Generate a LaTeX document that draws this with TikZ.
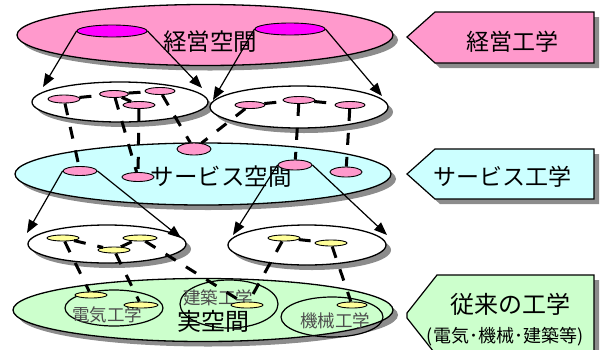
\documentclass[tikz,border=0pt]{standalone}
\usepackage{fontspec}
\setmainfont{Noto Sans CJK JP}
\usetikzlibrary{shapes.geometric,shadows,arrows.meta}
\definecolor{pinkA}{HTML}{FF99CC}
\definecolor{cyanA}{HTML}{CCFFFF}
\definecolor{greenA}{HTML}{CCFFCC}
\definecolor{magA}{HTML}{FF00FF}
\definecolor{yelA}{HTML}{FFFF99}
\definecolor{shd}{HTML}{8C8C8C}
\begin{document}
\begin{tikzpicture}[x=1pt,y=-1pt,
  shad/.style={drop shadow={shadow xshift=5pt,shadow yshift=-5pt,fill=shd,opacity=1}},
  ell/.style={ellipse,draw,line width=1.3pt,inner sep=0pt},
  bigell/.style={ell,shad},
  sm/.style={ellipse,draw,line width=0.9pt,inner sep=0pt},
  pk/.style={sm,fill=pinkA},
  yl/.style={sm,fill=yelA},
  circ/.style={ellipse,draw,line width=1.2pt,inner sep=0pt},
  arr/.style={-{Triangle[length=13pt,width=10pt]},line width=1.2pt},
  lnk/.style={line width=3pt,dash pattern=on 12pt off 12pt},
  pent/.style={draw,line width=1.2pt,shad},
  bigt/.style={font=\fontsize{23.5}{26}\selectfont,inner sep=0pt},
  midt/.style={font=\fontsize{23}{26}\selectfont,inner sep=0pt},
  smt/.style={font=\fontsize{17.5}{20}\selectfont,inner sep=0pt,text=black!70}
]
\useasboundingbox (0,0) rectangle (605,349);

% right side labels
\path[pent,fill=pinkA] (407,37) -- (435,12) -- (594,12) -- (594,63) -- (435,63) -- cycle;
\path[pent,fill=cyanA] (407,174) -- (435,149) -- (594,149) -- (594,199) -- (435,199) -- cycle;
\path[pent,fill=greenA] (407,313) -- (437,275) -- (594,275) -- (594,356) -- (437,356) -- (407,318) -- cycle;
\node[midt] (tR1) at (512,42) {経営工学};
\node[midt] (tR2) at (502,177) {サービス工学};
\node[font=\fontsize{24}{26}\selectfont,inner sep=0pt] (tR3a) at (510,304) {従来の工学};
\node[font=\fontsize{18}{20}\selectfont,inner sep=0pt] (tR3b) at (505,337) {(電気･機械･建築等)};

% big ellipses
\node[bigell,fill=pinkA,minimum width=376pt,minimum height=61pt] (P) at (205,35) {};
\node[bigell,fill=white,minimum width=176pt,minimum height=40pt] (W1) at (120,102) {};
\node[bigell,fill=white,minimum width=178pt,minimum height=42pt] (W2) at (299,107) {};
\node[bigell,fill=cyanA,minimum width=376pt,minimum height=62pt] (S) at (203,174) {};
\node[bigell,fill=white,minimum width=158pt,minimum height=38pt] (W3) at (107,244) {};
\node[bigell,fill=white,minimum width=158pt,minimum height=40pt] (W4) at (307,245) {};
\node[bigell,fill=greenA,minimum width=380pt,minimum height=63pt] (G) at (203,310) {};

% circles inside real space
\node[circ,minimum width=98pt,minimum height=36pt] (E) at (114,308) {};
\node[circ,minimum width=98pt,minimum height=48pt] (K) at (229,304) {};
\node[circ,minimum width=102pt,minimum height=40pt] (M) at (332,317) {};

% texts
\node[bigt] (tP) at (210,42) {経営空間};
\node[bigt] (tS) at (221,177) {サービス空間};
\node[font=\fontsize{24}{26}\selectfont,inner sep=0pt] (tG) at (213,321) {実空間};
\node[smt] (tE) at (107,315) {電気工学};
\node[smt] (tK) at (218,298) {建築工学};
\node[smt] (tM) at (335,321) {機械工学};

% small ellipses
\node[sm,fill=magA,minimum width=70pt,minimum height=12pt] (M1) at (112,31) {};
\node[sm,fill=magA,minimum width=70pt,minimum height=12pt] (M2) at (290,29) {};

\node[pk,minimum width=32pt,minimum height=8pt] (p1) at (64,99) {};
\node[pk,minimum width=29pt,minimum height=7pt] (p2) at (114,94) {};
\node[pk,minimum width=30pt,minimum height=7pt] (p3) at (160,91) {};
\node[pk,minimum width=32pt,minimum height=7pt] (p4) at (139,105) {};
\node[pk,minimum width=30pt,minimum height=7pt] (q1) at (250,105) {};
\node[pk,minimum width=32pt,minimum height=7pt] (q2) at (299,100) {};
\node[pk,minimum width=30pt,minimum height=7pt] (q3) at (350,105) {};

\node[pk,minimum width=34pt,minimum height=9pt] (s1) at (80,171) {};
\node[pk,minimum width=32pt,minimum height=9pt] (s2) at (138,177) {};
\node[pk,minimum width=34pt,minimum height=12pt] (sx) at (194,149) {};
\node[pk,minimum width=34pt,minimum height=10pt] (s3) at (295,165) {};
\node[pk,minimum width=32pt,minimum height=10pt] (s4) at (346,172) {};

\node[yl,minimum width=32pt,minimum height=6pt] (y1) at (63,238) {};
\node[yl,minimum width=32pt,minimum height=6pt] (y2) at (114,250) {};
\node[yl,minimum width=34pt,minimum height=6pt] (y3) at (140,238) {};
\node[yl,minimum width=32pt,minimum height=6pt] (y4) at (284,238) {};
\node[yl,minimum width=32pt,minimum height=6pt] (y5) at (331,243) {};

\node[yl,minimum width=32pt,minimum height=6pt] (e1) at (91,295) {};
\node[yl,minimum width=34pt,minimum height=6pt] (e2) at (141,305) {};
\node[yl,minimum width=32pt,minimum height=6pt] (k1) at (247,305) {};
\node[yl,minimum width=30pt,minimum height=6pt] (m1) at (352,305) {};

% arrow tips
\coordinate (a1) at (43,87);
\coordinate (a2) at (202,88);
\coordinate (a3) at (213,100);
\coordinate (a4) at (382,96);
\coordinate (a5) at (27,233);
\coordinate (a6) at (181,238);
\coordinate (a7) at (233,235);
\coordinate (a8) at (387,235);

% arrows
\draw[arr] (M1.west) -- (a1);
\draw[arr] (M1.east) -- (a2);
\draw[arr] (M2.west) -- (a3);
\draw[arr] (M2.east) -- (a4);
\draw[arr] (s1.west) -- (a5);
\draw[arr] (s1.east) -- (a6);
\draw[arr] (s3.west) -- (a7);
\draw[arr] (s3.east) -- (a8);

% thick dashed links
\draw[lnk] (p1) -- (p2);
\draw[lnk] (p2) -- (p3);
\draw[lnk] (p2) -- (p4);
\draw[lnk] (p1) -- (s1);
\draw[lnk] (p2) -- (s2);
\draw[lnk] (p4) -- (s2);
\draw[lnk] (p3) -- (sx);
\draw[lnk] (q1) -- (q2);
\draw[lnk] (q2) -- (q3);
\draw[lnk] (q1) -- (sx);
\draw[lnk] (q2) -- (s3);
\draw[lnk] (q3) -- (s4);
\draw[lnk] (y1) -- (y2);
\draw[lnk] (y2) -- (y3);
\draw[lnk] (y4) -- (y5);
\draw[lnk] (y1) -- (e1);
\draw[lnk] (y2) -- (e2);
\draw[lnk] (y3) -- (k1);
\draw[lnk] (y4) -- (k1);
\draw[lnk] (y5) -- (m1);
\end{tikzpicture}
\end{document}
